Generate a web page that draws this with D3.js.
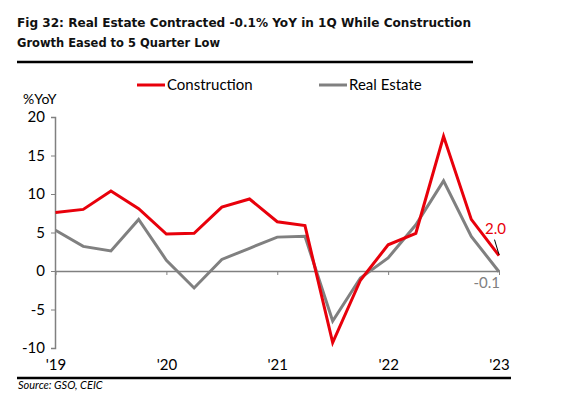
<!DOCTYPE html>
<html>
<head>
<meta charset="utf-8">
<script src="https://cdn.jsdelivr.net/npm/d3@7"></script>
<style>
  body { margin: 0; background: #fff; }
  svg { display: block; }
</style>
</head>
<body>
<svg id="chart" width="565" height="418"></svg>
<script>
const quarters = ["1Q19","2Q19","3Q19","4Q19","1Q20","2Q20","3Q20","4Q20","1Q21","2Q21","3Q21","4Q21","1Q22","2Q22","3Q22","4Q22","1Q23"];
const construction = [7.6, 8.0, 10.4, 8.1, 4.8, 4.9, 8.3, 9.35, 6.4, 5.9, -9.3, -1.2, 3.4, 4.9, 17.5, 6.7, 2.0];
const realEstate = [5.3, 3.2, 2.6, 6.7, 1.4, -2.2, 1.5, 2.95, 4.4, 4.5, -6.5, -0.9, 1.7, 6.0, 11.7, 4.5, -0.1];
const yTicks = [-10, -5, 0, 5, 10, 15, 20];
const xTickIndex = [0, 4, 8, 12, 16];
const xTickLabels = ["'19", "'20", "'21", "'22", "'23"];
const seriesNames = ["Construction", "Real Estate"];
const seriesColors = ["#e8000b", "#808080"];

const svg = d3.select("#chart");
const axisFont = "Lato, 'Open Sans', sans-serif";
const hy = s => s.replace("\u2212", "-");

const x = d3.scaleLinear().domain([0, quarters.length - 1]).range([55.5, 499]);
const y = d3.scaleLinear().domain([-10, 20]).range([348, 117]);

// Title
const title = svg.append("g").attr("font-family", "'DejaVu Sans', Verdana, sans-serif")
  .attr("font-weight", "bold").attr("font-size", 13).attr("fill", "#111");
title.append("text").attr("x", 17).attr("y", 27)
  .attr("textLength", 454).attr("lengthAdjust", "spacingAndGlyphs")
  .text("Fig 32: Real Estate Contracted -0.1% YoY in 1Q While Construction");
title.append("text").attr("x", 17).attr("y", 47)
  .attr("textLength", 203).attr("lengthAdjust", "spacingAndGlyphs")
  .text("Growth Eased to 5 Quarter Low");

// Rules
svg.append("line").attr("x1", 17).attr("x2", 473).attr("y1", 62).attr("y2", 62)
  .attr("stroke", "#000").attr("stroke-width", 2.5);
svg.append("line").attr("x1", 17).attr("x2", 511).attr("y1", 378).attr("y2", 378)
  .attr("stroke", "#000").attr("stroke-width", 2.5);

// Y axis
const yAxis = svg.append("g").attr("transform", "translate(55,0)")
  .call(d3.axisLeft(y).tickValues(yTicks).tickSize(4).tickPadding(6).tickFormat(d => hy(d3.format("d")(d))));
yAxis.select(".domain").attr("stroke", "#808080").attr("stroke-width", 1.5);
yAxis.selectAll(".tick line").attr("stroke", "#808080");
yAxis.selectAll("text").attr("font-family", axisFont).attr("font-size", 15).attr("fill", "#000");

svg.append("text").attr("x", 23).attr("y", 104).attr("font-family", axisFont)
  .attr("font-size", 14).attr("fill", "#000").text("%YoY");

// Zero line with small ticks
const zeroAxis = svg.append("g").attr("transform", `translate(0,${y(0)})`)
  .call(d3.axisBottom(x).tickValues(xTickIndex).tickSize(4).tickSizeOuter(0).tickFormat(""));
zeroAxis.select(".domain").attr("stroke", "#808080").attr("stroke-width", 1.5);
zeroAxis.selectAll(".tick line").attr("stroke", "#808080");

// X labels at the bottom
const xLab = svg.append("g").attr("transform", "translate(0,356)")
  .call(d3.axisBottom(x).tickValues(xTickIndex).tickSize(0).tickPadding(3)
    .tickFormat((d, i) => xTickLabels[i]));
xLab.select(".domain").remove();
xLab.selectAll("text").attr("font-family", axisFont).attr("font-size", 15).attr("fill", "#000");

// Lines
const line = d3.line().x((d, i) => x(i)).y(d => y(d));
[realEstate, construction].forEach((data, k) => {
  const idx = k === 0 ? 1 : 0;
  svg.append("path").datum(data).attr("d", line)
    .attr("fill", "none").attr("stroke", seriesColors[idx])
    .attr("stroke-width", 3).attr("stroke-linejoin", "miter");
});

// Legend
const legendPos = [{lx: 137, tx: 167}, {lx: 319, tx: 349}];
seriesNames.forEach((name, i) => {
  svg.append("line").attr("x1", legendPos[i].lx).attr("x2", legendPos[i].lx + 28)
    .attr("y1", 85).attr("y2", 85).attr("stroke", seriesColors[i]).attr("stroke-width", 3);
  svg.append("text").attr("x", legendPos[i].tx).attr("y", 90)
    .attr("font-family", axisFont).attr("font-size", 15).attr("fill", "#000").text(name);
});

// Annotations
const last = quarters.length - 1;
svg.append("line").attr("x1", x(last) - 4.5).attr("y1", y(construction[last]) - 16)
  .attr("x2", x(last)).attr("y2", y(construction[last]) - 1)
  .attr("stroke", "#000").attr("stroke-width", 1);
svg.append("text").attr("x", x(last) + 7).attr("y", y(construction[last]) - 22)
  .attr("text-anchor", "end").attr("font-family", axisFont).attr("font-size", 15)
  .attr("fill", seriesColors[0]).text(hy(d3.format(".1f")(construction[last])));
svg.append("text").attr("x", x(last) + 1).attr("y", y(realEstate[last]) + 16)
  .attr("text-anchor", "end").attr("font-family", axisFont).attr("font-size", 15)
  .attr("fill", seriesColors[1]).text(hy(d3.format(".1f")(realEstate[last])));

// Source
svg.append("text").attr("x", 18).attr("y", 389).attr("font-family", axisFont)
  .attr("font-style", "italic").attr("font-size", 11).attr("fill", "#000").text("Source: GSO, CEIC");
</script>
</body>
</html>
